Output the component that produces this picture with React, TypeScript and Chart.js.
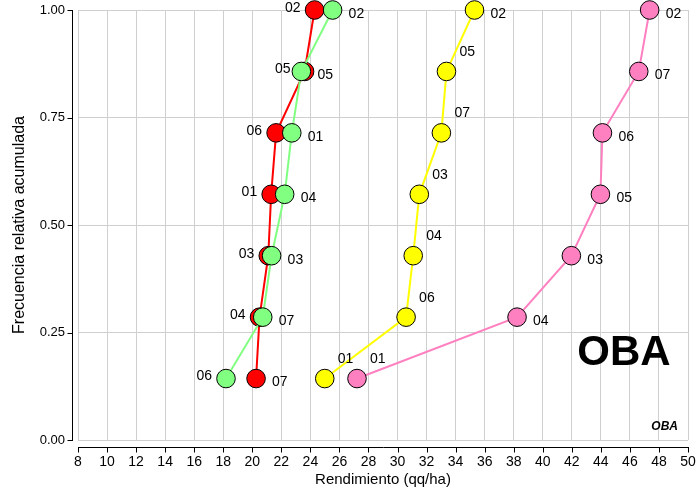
import React, { useEffect, useRef } from 'react';
import { Chart, registerables } from 'chart.js';

Chart.register(...registerables);

const FONT = '"Liberation Sans", Arial, Helvetica, sans-serif';

// cumulative relative frequency (shared by all series)
const FREQ = [0.1429, 0.2857, 0.4286, 0.5714, 0.7143, 0.8571, 1.0];

const RED_CODES = ['07', '04', '03', '01', '06', '05', '02'];
const RED_VALUES = [20.26, 20.5, 21.1, 21.3, 21.64, 23.6, 24.29];
const RED_LABEL_SIDE = ['r', 'l', 'l', 'l', 'l', 'l', 'l'];

const GREEN_CODES = ['06', '07', '03', '04', '01', '05', '02'];
const GREEN_VALUES = [18.19, 20.72, 21.33, 22.23, 22.72, 23.38, 25.53];
const GREEN_LABEL_SIDE = ['l', 'r', 'r', 'r', 'r', 'r', 'r'];

const YELLOW_CODES = ['01', '06', '04', '03', '07', '05', '02'];
const YELLOW_VALUES = [24.99, 30.59, 31.08, 31.5, 33.02, 33.37, 35.3];
const YELLOW_LABEL_SIDE = ['t', 't', 't', 't', 't', 't', 'r'];

const PINK_CODES = ['01', '04', '03', '05', '06', '07', '02'];
const PINK_VALUES = [27.21, 38.23, 41.97, 43.97, 44.11, 46.61, 47.36];
const PINK_LABEL_SIDE = ['t', 'r', 'r', 'r', 'r', 'r', 'r'];

const X_MIN = 8;
const X_MAX = 50;
const X_STEP = 2;
const Y_MIN = 0;
const Y_MAX = 1;
const Y_STEP = 0.25;

const X_TITLE = 'Rendimiento (qq/ha)';
const Y_TITLE = 'Frecuencia relativa acumulada';
const BIG_NOTE = 'OBA';
const SMALL_NOTE = 'OBA';

function makeSeries(values: number[], codes: string[], sides: string[], color: string, order: number) {
  return {
    data: values.map((v, i) => ({ x: v, y: FREQ[i] })),
    codes,
    sides,
    showLine: true,
    borderColor: color,
    borderWidth: 2,
    backgroundColor: color,
    pointBackgroundColor: color,
    pointBorderColor: '#000000',
    pointBorderWidth: 1,
    pointRadius: 9.3,
    pointHoverRadius: 9.3,
    tension: 0,
    clip: false as any,
    order,
  };
}

const pointLabelPlugin = {
  id: 'pointLabelPlugin',
  afterDatasetsDraw(chart: any) {
    const ctx = chart.ctx;
    ctx.save();
    ctx.font = `14px ${FONT}`;
    ctx.fillStyle = '#000';
    ctx.textBaseline = 'middle';
    chart.data.datasets.forEach((ds: any, i: number) => {
      const meta = chart.getDatasetMeta(i);
      meta.data.forEach((pt: any, j: number) => {
        const side = ds.sides[j];
        let x = pt.x;
        let y = pt.y;
        if (side === 'l') {
          ctx.textAlign = 'right';
          x -= 14;
          y -= 2;
        } else if (side === 'r') {
          ctx.textAlign = 'left';
          x += 16;
          y += 4;
        } else {
          ctx.textAlign = 'left';
          x += 13;
          y -= 19.5;
        }
        ctx.fillText(ds.codes[j], x, y);
      });
    });
    ctx.restore();
  },
};

const axesPlugin = {
  id: 'axesPlugin',
  afterDraw(chart: any) {
    const ctx = chart.ctx;
    const { left, right, top, bottom } = chart.chartArea;
    const xs = chart.scales.x;
    const ys = chart.scales.y;
    ctx.save();
    ctx.strokeStyle = '#000';
    ctx.lineWidth = 1;
    ctx.beginPath();
    const ax = Math.round(left - 6) + 0.5;
    ctx.moveTo(ax, Math.round(top));
    ctx.lineTo(ax, Math.round(bottom) + 1);
    ys.ticks.forEach((t: any) => {
      const py = Math.round(ys.getPixelForValue(t.value)) + 0.5;
      ctx.moveTo(ax - 5, py);
      ctx.lineTo(ax, py);
    });
    const ay = Math.round(bottom + 7) + 0.5;
    ctx.moveTo(Math.round(left), ay);
    ctx.lineTo(Math.round(right) + 1, ay);
    xs.ticks.forEach((t: any) => {
      const px = Math.round(xs.getPixelForValue(t.value)) + 0.5;
      ctx.moveTo(px, ay);
      ctx.lineTo(px, ay + 5);
    });
    ctx.stroke();

    // annotations
    ctx.fillStyle = '#000';
    ctx.textBaseline = 'alphabetic';
    ctx.textAlign = 'center';
    ctx.font = `bold 42px ${FONT}`;
    ctx.fillText(BIG_NOTE, right - 64, bottom - 75);
    ctx.textAlign = 'right';
    ctx.font = `italic bold 12px ${FONT}`;
    ctx.fillText(SMALL_NOTE, right - 10, bottom - 10);
    ctx.restore();
  },
};

function zeroPadding(s: any) {
  s.paddingTop = 0;
  s.paddingBottom = 0;
  s.paddingLeft = 0;
  s.paddingRight = 0;
}

export default function App() {
  const canvasRef = useRef<HTMLCanvasElement | null>(null);

  useEffect(() => {
    const canvas = canvasRef.current;
    if (!canvas) return;
    const chart = new Chart(canvas, {
      type: 'scatter',
      data: {
        datasets: [
          makeSeries(GREEN_VALUES, GREEN_CODES, GREEN_LABEL_SIDE, '#80ff80', 0),
          makeSeries(RED_VALUES, RED_CODES, RED_LABEL_SIDE, '#ff0000', 1),
          makeSeries(YELLOW_VALUES, YELLOW_CODES, YELLOW_LABEL_SIDE, '#ffff00', 2),
          makeSeries(PINK_VALUES, PINK_CODES, PINK_LABEL_SIDE, '#ff80c0', 3),
        ] as any,
      },
      options: {
        responsive: false,
        animation: false,
        devicePixelRatio: 1,
        layout: { autoPadding: false, padding: { top: 10, right: 12, left: 0, bottom: 0 } },
        plugins: {
          legend: { display: false },
          tooltip: { enabled: false },
        },
        events: [],
        scales: {
          x: {
            type: 'linear',
            min: X_MIN,
            max: X_MAX,
            ticks: {
              stepSize: X_STEP,
              autoSkip: false,
              maxRotation: 0,
              color: '#000',
              padding: 14,
              font: { family: FONT, size: 14 },
            },
            grid: { color: '#cfcfcf', drawTicks: false, lineWidth: 1 },
            border: { display: false },
            title: {
              display: true,
              text: X_TITLE,
              color: '#000',
              font: { family: FONT, size: 15 },
              padding: { top: 0, bottom: 1 },
            },
            afterFit: (s: any) => {
              s.height = 50;
              zeroPadding(s);
            },
          },
          y: {
            type: 'linear',
            min: Y_MIN,
            max: Y_MAX,
            ticks: {
              stepSize: Y_STEP,
              color: '#000',
              padding: 13,
              font: { family: FONT, size: 13 },
              callback: (v: any) => Number(v).toFixed(2),
            },
            grid: { color: '#cfcfcf', drawTicks: false, lineWidth: 1 },
            border: { display: false },
            title: {
              display: true,
              text: Y_TITLE,
              color: '#000',
              font: { family: FONT, size: 16 },
              padding: { top: 10, bottom: 0 },
            },
            afterFit: (s: any) => {
              s.width = 78;
              zeroPadding(s);
            },
          },
        },
      } as any,
      plugins: [pointLabelPlugin, axesPlugin],
    });
    return () => chart.destroy();
  }, []);

  return (
    <div style={{ position: 'fixed', left: 0, top: 0, width: 700, height: 490, background: '#fff' }}>
      <canvas ref={canvasRef} width={700} height={490} style={{ display: 'block' }} />
    </div>
  );
}
